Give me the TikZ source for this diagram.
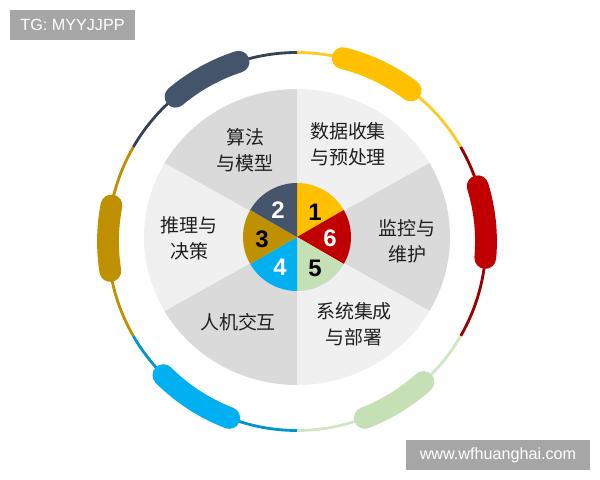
\documentclass[tikz,border=0pt]{standalone}
\usepackage{fontspec}
\setmainfont{Liberation Sans}
\newfontfamily\cjk{Noto Sans CJK SC}
\usetikzlibrary{positioning}
\definecolor{stepYellow}{HTML}{FFC000}
\definecolor{stepRed}{HTML}{C00000}
\definecolor{stepGreen}{HTML}{C5E0B4}
\definecolor{stepBlue}{HTML}{00B0F0}
\definecolor{stepGold}{HTML}{BF9000}
\definecolor{stepSlate}{HTML}{44546A}
\definecolor{sectorLight}{HTML}{F0F0F0}
\definecolor{sectorDark}{HTML}{DADADA}
\definecolor{markGray}{HTML}{A6A6A6}
\definecolor{textColor}{HTML}{1F1F1F}
\tikzset{
  stageText/.style={text=textColor, align=center, font=\cjk\fontsize{13.5}{18.5}\selectfont},
  stageNum/.style={font=\fontsize{17}{17}\selectfont\bfseries},
  ringLine/.style={line width=2pt},
  capsule/.style={line width=15.5pt, line cap=round},
  markBox/.style={fill=markGray, text=white, font=\fontsize{11.5}{12}\selectfont}
}

\begin{document}
\begin{tikzpicture}[x=0.025cm, y=0.025cm]
	\useasboundingbox (0,0) rectangle (600,480);
	\coordinate (pieC) at (297,243);
	\coordinate (ringC) at (297,238.5);
	% big sectors
	\fill[sectorLight] (pieC) -- +(90:153 and 148) arc[start angle=90, end angle=30, x radius=153, y radius=148] -- cycle;
	\fill[sectorDark] (pieC) -- +(30:153 and 148) arc[start angle=30, end angle=-30, x radius=153, y radius=148] -- cycle;
	\fill[sectorLight] (pieC) -- +(-30:153 and 148) arc[start angle=-30, end angle=-90, x radius=153, y radius=148] -- cycle;
	\fill[sectorDark] (pieC) -- +(-90:153 and 148) arc[start angle=-90, end angle=-150, x radius=153, y radius=148] -- cycle;
	\fill[sectorLight] (pieC) -- +(210:153 and 148) arc[start angle=210, end angle=150, x radius=153, y radius=148] -- cycle;
	\fill[sectorDark] (pieC) -- +(150:153 and 148) arc[start angle=150, end angle=90, x radius=153, y radius=148] -- cycle;
	% small pie
	\fill[stepYellow] (pieC) -- +(90:54) arc[start angle=90, end angle=30, radius=54] -- cycle;
	\fill[stepRed] (pieC) -- +(30:54) arc[start angle=30, end angle=-30, radius=54] -- cycle;
	\fill[stepGreen] (pieC) -- +(-30:54) arc[start angle=-30, end angle=-90, radius=54] -- cycle;
	\fill[stepBlue] (pieC) -- +(-90:54) arc[start angle=-90, end angle=-150, radius=54] -- cycle;
	\fill[stepGold] (pieC) -- +(210:54) arc[start angle=210, end angle=150, radius=54] -- cycle;
	\fill[stepSlate] (pieC) -- +(150:54) arc[start angle=150, end angle=90, radius=54] -- cycle;
	% outer ring
	\draw[ringLine, stepYellow!85!white] (ringC) ++(30:189) arc[start angle=30, end angle=90, radius=189];
	\draw[ringLine, stepRed!80!black] (ringC) ++(-30:189) arc[start angle=-30, end angle=30, radius=189];
	\draw[ringLine, stepGreen!80!white] (ringC) ++(-90:189) arc[start angle=-90, end angle=-30, radius=189];
	\draw[ringLine, stepBlue!85!black] (ringC) ++(210:189) arc[start angle=210, end angle=270, radius=189];
	\draw[ringLine, stepGold] (ringC) ++(150:189) arc[start angle=150, end angle=210, radius=189];
	\draw[ringLine, stepSlate!80!black] (ringC) ++(90:189) arc[start angle=90, end angle=150, radius=189];
	\draw[capsule, stepYellow] (ringC) ++(53:189) arc[start angle=53, end angle=76, radius=189];
	\draw[capsule, stepRed] (ringC) ++(-5:189) arc[start angle=-5, end angle=17, radius=189];
	\draw[capsule, stepGreen] (ringC) ++(-69:189) arc[start angle=-69, end angle=-48, radius=189];
	\draw[capsule, stepBlue] (ringC) ++(225:189) arc[start angle=225, end angle=249, radius=189];
	\draw[capsule, stepGold] (ringC) ++(169:189) arc[start angle=169, end angle=189, radius=189];
	\draw[capsule, stepSlate] (ringC) ++(108:189) arc[start angle=108, end angle=130, radius=189];
	% numbers
	\node[stageNum, text=black] (num1) at (315,268) {1};
	\node[stageNum, text=white] (num6) at (330,242) {6};
	\node[stageNum, text=black] (num5) at (315,212) {5};
	\node[stageNum, text=white] (num4) at (280,213) {4};
	\node[stageNum, text=black] (num3) at (262,241) {3};
	\node[stageNum, text=white] (num2) at (278,270) {2};
	% stage texts
	\node[stageText] (txtData) at (348,336) {数据收集\\与预处理};
	\node[stageText] (txtMonitor) at (407,239) {监控与\\维护};
	\node[stageText] (txtDeploy) at (354,156) {系统集成\\与部署};
	\node[stageText] (txtHci) at (238,158) {人机交互};
	\node[stageText] (txtReason) at (189,242) {推理与\\决策};
	\node[stageText] (txtAlgo) at (245,330) {算法\\与模型};
	% marks
	\node[markBox, minimum width=125*0.025cm, minimum height=30*0.025cm] (markTg) at (72.5,455) {TG: MYYJJPP};
	\node[markBox, minimum width=184*0.025cm, minimum height=30*0.025cm] (markWeb) at (498,25) {www.wfhuanghai.com};
\end{tikzpicture}
\end{document}
